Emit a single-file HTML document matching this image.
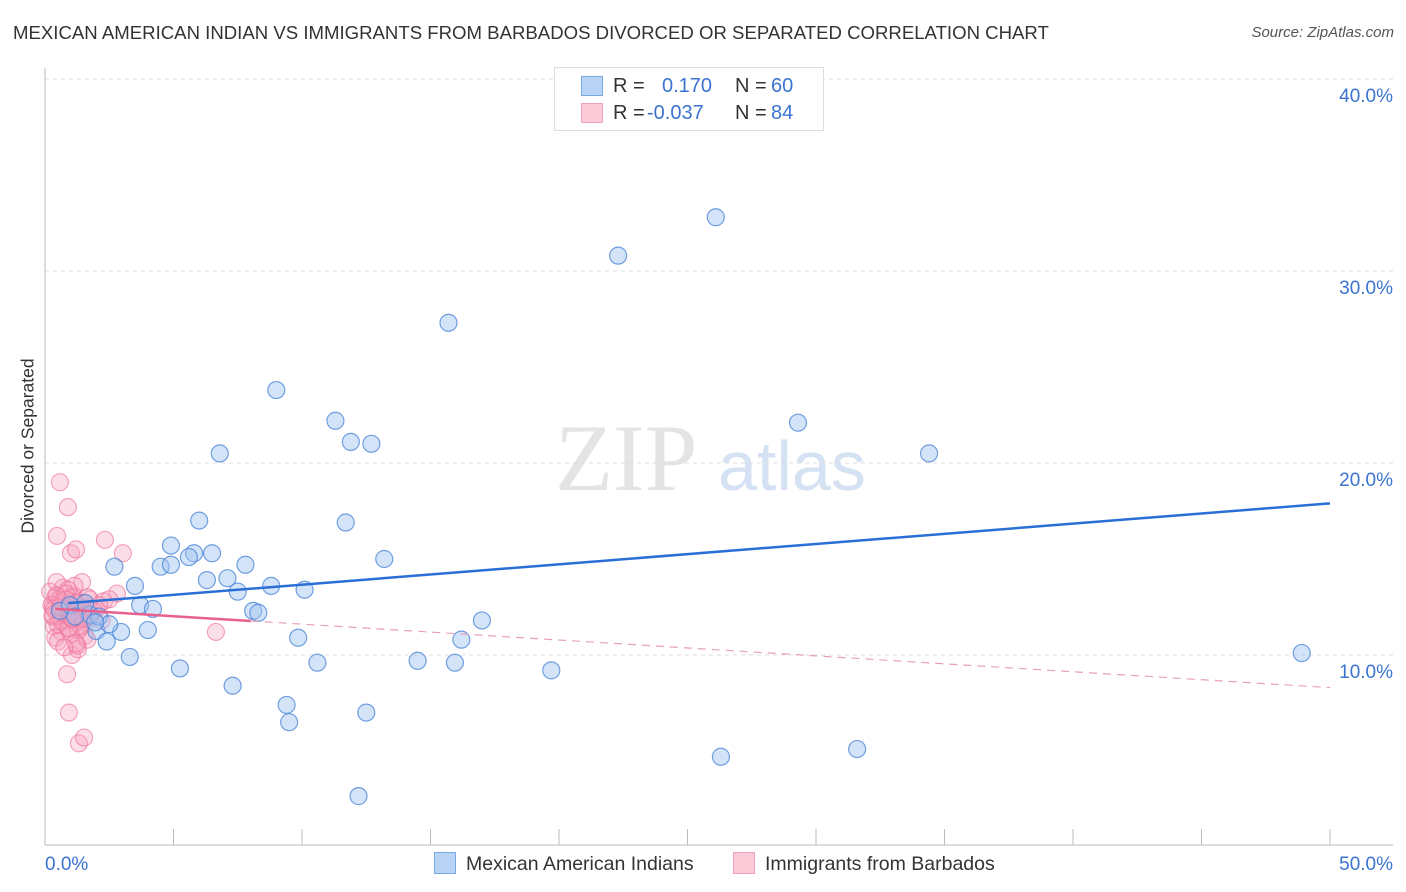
<!DOCTYPE html>
<html><head><meta charset="utf-8">
<style>
body{margin:0;background:#fff;font-family:"Liberation Sans",sans-serif;}
#wrap{position:relative;width:1406px;height:892px;overflow:hidden;}
.t{position:absolute;white-space:nowrap;}
</style></head>
<body>
<div id="wrap">
<div class="t" style="left:13px;top:22px;font-size:18.6px;color:#333;">MEXICAN AMERICAN INDIAN VS IMMIGRANTS FROM BARBADOS DIVORCED OR SEPARATED CORRELATION CHART</div>
<div class="t" style="right:12px;top:24px;font-size:15px;color:#555;font-style:italic;">Source: ZipAtlas.com</div>
<div class="t" style="left:-52px;top:443px;font-size:17.5px;color:#333;transform:rotate(-90deg);width:160px;text-align:center;">Divorced or Separated</div>
<svg id="svg" width="1406" height="892" style="position:absolute;left:0;top:0"></svg>
</div>
<script>
const xTicks=[0,5,10,15,20,25,30,35,40,45,50];
const yTicks=[10,20,30,40];
const yTickLabels=["10.0%","20.0%","30.0%","40.0%"];
const blueX=[26.1,22.3,15.7,9.0,11.3,29.3,11.9,12.7,6.8,34.4,6.0,11.7,4.9,5.8,6.5,13.2,5.6,4.5,4.9,7.8,2.7,3.5,6.3,7.1,7.5,8.8,10.1,3.7,4.2,8.1,8.3,17.0,4.0,2.0,2.96,9.85,16.2,2.4,3.3,10.6,14.5,15.95,48.9,19.7,5.25,7.3,9.4,12.5,9.5,26.3,31.6,12.2,1.75,2.1,2.5,1.56,0.58,0.97,1.17,1.95];
const blueY=[32.8,30.8,27.3,23.8,22.2,22.1,21.1,21.0,20.5,20.5,17.0,16.9,15.7,15.3,15.3,15.0,15.1,14.6,14.7,14.7,14.6,13.6,13.9,14.0,13.3,13.6,13.4,12.6,12.4,12.3,12.2,11.8,11.3,11.25,11.2,10.9,10.8,10.7,9.9,9.6,9.7,9.6,10.1,9.2,9.3,8.4,7.4,7.0,6.5,4.7,5.1,2.65,12.1,12.0,11.6,12.7,12.3,12.6,12.0,11.7];
const pinkX=[0.58,0.89,0.47,1.01,1.21,2.33,3.03,1.44,2.8,1.67,2.29,6.65,0.86,0.93,1.32,1.52,1.05,1.28,0.3,0.4,0.5,0.6,0.7,0.8,0.9,1.0,1.1,1.2,1.3,1.4,1.5,1.6,1.7,1.8,0.2,0.35,0.55,0.75,0.95,1.15,1.35,1.55,1.75,0.25,0.45,0.65,0.85,1.05,1.25,1.45,1.65,0.3,0.5,0.7,0.9,1.1,1.3,1.5,0.4,0.6,0.8,1.0,1.2,1.4,0.35,0.65,0.95,1.25,0.5,0.8,1.1,2.0,2.2,2.5,0.3,0.6,0.9,1.2,1.5,1.9,2.1,0.45,0.75,1.05];
const pinkY=[19.0,17.7,16.2,15.3,15.5,16.0,15.3,13.8,13.2,13.0,12.8,11.2,9.0,7.0,5.4,5.7,10.0,10.3,12.5,13.0,12.0,12.8,13.5,12.2,11.8,12.6,13.1,12.4,11.9,12.7,12.2,11.7,12.5,12.0,13.3,11.5,12.9,12.3,11.4,13.6,12.1,11.0,12.9,12.6,13.8,11.2,12.4,13.0,11.7,12.3,10.8,12.0,11.6,12.8,13.4,12.5,11.3,12.0,10.9,12.2,13.2,11.1,12.7,11.5,12.4,11.8,12.0,10.5,10.7,12.9,11.9,12.4,11.8,12.9,12.1,12.5,11.4,10.6,11.9,12.3,12.6,13.1,10.4,11.9];
const blueTrend=[0.9,12.7,50,17.9];
const pinkTrend=[0.4,12.4,50,8.3];
const pinkSolidEnd=8.0;

const NS="http://www.w3.org/2000/svg";
const svg=document.getElementById('svg');
const X0=45,X1=1330,Y0=847,PY=19.2;
const sx=v=>X0+(X1-X0)*v/50;
const sy=v=>Y0-v*PY;
function mk(tag,attrs){const e=document.createElementNS(NS,tag);for(const k in attrs)e.setAttribute(k,attrs[k]);svg.appendChild(e);return e;}
let wm=mk('text',{x:555,y:490,'font-size':95,'font-family':'Liberation Serif,serif',fill:'#e4e4e4'});


wm.textContent='ZIP';
let wm2=mk('text',{x:718,y:490,'font-size':70,'font-family':'Liberation Sans,sans-serif',fill:'#d5e2f3'});


wm2.textContent='atlas';
yTicks.forEach((v,i)=>{
 let g=mk('line',{x1:X0,x2:1393,y1:sy(v),y2:sy(v),stroke:'#ddd','stroke-dasharray':'4,4'});
 
 
 let t=mk('text',{x:1393,y:sy(v)+23,'text-anchor':'end','font-size':19,fill:'#3b73d1','font-family':'Liberation Sans,sans-serif'});
 
 
 t.textContent=yTickLabels[i];
});
let ax=mk('line',{x1:X0,x2:1393,y1:845,y2:845,stroke:'#bbb'});


let ay=mk('line',{x1:X0,x2:X0,y1:68,y2:845,stroke:'#bbb'});


xTicks.forEach(v=>{
 let l=mk('line',{x1:sx(v),x2:sx(v),y1:829,y2:845,stroke:'#bbb'});
 
 
});
let xl=mk('text',{x:45,y:870,'font-size':19,fill:'#3b73d1','font-family':'Liberation Sans,sans-serif'});


xl.textContent='0.0%';
let xr=mk('text',{x:1393,y:870,'text-anchor':'end','font-size':19,fill:'#3b73d1','font-family':'Liberation Sans,sans-serif'});


xr.textContent='50.0%';
pinkX.forEach((v,i)=>{
 let c=mk('circle',{cx:sx(v),cy:sy(pinkY[i]),r:8.5,fill:'rgba(246,160,188,0.35)',stroke:'rgba(236,110,150,0.6)','stroke-width':1.2});
 
 
});
blueX.forEach((v,i)=>{
 let c=mk('circle',{cx:sx(v),cy:sy(blueY[i]),r:8.5,fill:'rgba(160,196,240,0.45)',stroke:'rgba(70,130,215,0.75)','stroke-width':1.2});
 
 
});
let bt=mk('line',{x1:sx(blueTrend[0]),y1:sy(blueTrend[1]),x2:sx(blueTrend[2]),y2:sy(blueTrend[3]),stroke:'#2a6fd6','stroke-width':2.5});


const pAt=x=>pinkTrend[1]+(pinkTrend[3]-pinkTrend[1])*(x-pinkTrend[0])/(pinkTrend[2]-pinkTrend[0]);
let pt=mk('line',{x1:sx(pinkTrend[0]),y1:sy(pinkTrend[1]),x2:sx(pinkSolidEnd),y2:sy(pAt(pinkSolidEnd)),stroke:'#e8608c','stroke-width':2.5});


let pd=mk('line',{x1:sx(pinkSolidEnd),y1:sy(pAt(pinkSolidEnd)),x2:sx(pinkTrend[2]),y2:sy(pinkTrend[3]),stroke:'#e8a0b8','stroke-width':1.2,'stroke-dasharray':'8,6'});


</script>
<div class="t" style="left:554px;top:67px;width:268px;height:62px;border:1px solid #ddd;background:#fff;font-size:20px;">
 <div style="position:absolute;left:26px;top:8px;width:20px;height:18px;background:#b9d3f5;border:1px solid #7aa7e6"></div>
 <div class="t" style="left:58px;top:7px;color:#333">R =</div>
 <div class="t" style="left:107px;top:7px;color:#3b73d1">0.170</div>
 <div class="t" style="left:180px;top:7px;color:#333">N =</div>
 <div class="t" style="left:216px;top:7px;color:#3b73d1">60</div>
 <div style="position:absolute;left:26px;top:35px;width:20px;height:18px;background:#fbcad9;border:1px solid #f1a0ba"></div>
 <div class="t" style="left:58px;top:34px;color:#333">R =</div>
 <div class="t" style="left:92px;top:34px;color:#3b73d1">-0.037</div>
 <div class="t" style="left:180px;top:34px;color:#333">N =</div>
 <div class="t" style="left:216px;top:34px;color:#3b73d1">84</div>
</div>
<div class="t" style="left:434px;top:852px;font-size:19.5px;color:#333;">
 <span style="display:inline-block;width:20px;height:20px;background:#b9d3f5;border:1px solid #7aa7e6;vertical-align:-4px;margin-right:10px"></span>Mexican American Indians</div>
<div class="t" style="left:733px;top:852px;font-size:19.5px;color:#333;">
 <span style="display:inline-block;width:20px;height:20px;background:#fbcad9;border:1px solid #f1a0ba;vertical-align:-4px;margin-right:10px"></span>Immigrants from Barbados</div>
</body></html>
